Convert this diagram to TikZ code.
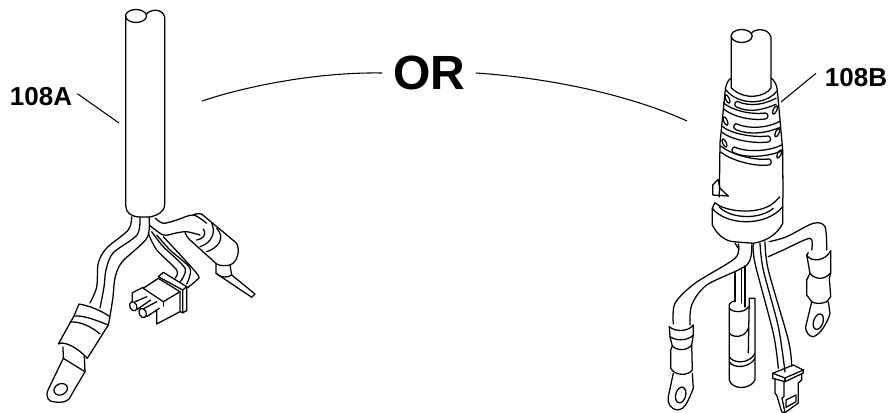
\documentclass[tikz,border=0pt]{standalone}
\usepackage{fontspec}
\setmainfont{Liberation Sans}
\tikzset{
  part/.style={line width=0.95pt, line cap=round, line join=round},
  callout/.style={inner sep=0pt, font=\fontsize{19.5}{22}\selectfont\bfseries},
  leader/.style={line width=0.8pt}
}
\begin{document}
\begin{tikzpicture}[x=0.75pt,y=0.75pt,yscale=-1,xscale=1]
        \useasboundingbox (0,0) rectangle (893,413);

        % Text Node
        \node (lblA) [callout, inner xsep=3.75pt] at (41,97) {108A};
        % Text Node
        \node (lblB) [callout, inner xsep=6.5pt] at (856,78) {108B};
        % Text Node
        \node (lblOr) [callout, inner xsep=8pt, font=\fontsize{36}{40}\selectfont\bfseries] at (429,73) {OR};

        \coordinate (cableA) at (119,123);
        \coordinate (bootB) at (781,102);
        \coordinate (endA) at (202,101);
        \coordinate (endB) at (687,121);

        %Straight Lines
        \draw [leader] ([yshift=-2.5pt]lblA.east) -- (cableA);
        \draw [leader] ([yshift=-3.5pt]lblB.west) -- (bootB);
        %Curves
        \draw [leader] (lblOr.west) .. controls (320,72) and (250,85) .. (endA);
        \draw [leader] (lblOr.east) .. controls (550,78) and (630,95) .. (endB);

        %Shape: Cable A
        \draw [part] (136,16) ellipse (10.5 and 6.5);
        \draw [part] (146.7,14) .. controls (149,10) and (162,7) .. (164.7,17) -- (164.7,204) .. controls (164.7,212) and (158,215) .. (150,217) -- (140,217) .. controls (132,217) and (125.7,213) .. (125.7,206) -- (125.7,16);
        %Wires to lug
        \draw [part] plot [smooth] coordinates {(131.7,216.7) (128.3,230) (106.7,248) (98.3,263) (96.7,287) (90,303)};
        \draw [part] plot [smooth] coordinates {(140,217) (137,235) (113,253) (106,270) (104,287) (100,308)};
        \draw [part] plot [smooth] coordinates {(149,217) (147,238) (122,262) (115,278) (113,297) (110,316)};
        %Shape: Ferrule
        \draw [part] (79,304) -- (74,316) -- (58.3,344) .. controls (62,341) and (75,345) .. (87.3,358.3) -- (108.3,325) -- (110,316.7) .. controls (100,310) and (90,306) .. (79,304) -- cycle;
        \draw [part] (74,316) .. controls (85,315) and (100,322) .. (108.3,325);
        \draw [part] (70,322) .. controls (80,321) and (92,327) .. (100,334);
        %Shape: Lug
        \draw [part] (63,347) -- (63.3,358.3) -- (48,390) .. controls (45,398) and (49,402) .. (55,402) .. controls (60,403) and (66,402) .. (69,399) -- (85,371.7) -- (84.3,356);
        \draw [part] (63.3,358.3) -- (85,371.7);
        \draw [part, rotate around={-25:(60.7,389.3)}] (60.7,389.3) ellipse (7 and 5.5);

        %Wire to tube
        \draw [part] plot [smooth] coordinates {(155,218) (163.3,223.3) (176.7,220) (193.3,215) (206.7,223.3)};
        \draw [part] plot [smooth] coordinates {(149.3,225) (163.3,235) (176,233) (186.7,231.7) (200,235)};
        %Shape: Tube
        \draw [part] (193.3,215) .. controls (197,213) and (202,213) .. (204,216) -- (236.7,243.3) .. controls (240,250) and (238,262) .. (230,265) .. controls (226,266) and (220,266) .. (216.7,264) -- (190,240) .. controls (187,237) and (186,235) .. (185,232.5);
        \draw [part] (211.7,223.3) .. controls (216,232) and (212,243) .. (200,246.7);
        \draw [part] (216.7,228.3) .. controls (226,238) and (218,248) .. (206.7,251.7);
        \draw [part] (203.3,229) .. controls (207,235) and (203,239) .. (196.7,240);
        %Shape: Terminal
        \draw [part] (216,264) -- (216,273.3) -- (251.7,297.3) -- (255,294) -- (231.7,275) -- (230,265);
        \draw [part] (216,273.3) .. controls (221,278) and (227,278) .. (231.7,275);

        %Small wires
        \draw [part] plot [smooth] coordinates {(148.3,233.3) (156.7,250) (176.7,270) (175,278.3)};
        \draw [part] plot [smooth] coordinates {(151.7,231.7) (163.3,246.7) (185,268.3) (180,282)};
        \draw [part] plot [smooth] coordinates {(156.7,235) (170,250) (190,268.3) (186.7,284)};
        \draw [part] plot [smooth] coordinates {(163.3,236.7) (196.7,273.3) (196.7,280) (186.7,288.3)};
        %Shape: Plug
        \draw [part, fill=white] (158.3,276.7) -- (163.3,272.3) -- (186.7,286.7) -- (182.7,290) -- cycle;
        \draw [part] (143.3,288.3) -- (158.3,278.3) -- (180,291.7) -- (163.3,301.7) -- cycle;
        \draw [part] (163.3,301.7) -- (163.3,306);
        \draw [part] (156.7,310) -- (156.7,324) -- (180,311.7) -- (180,291.7);
        \draw [part] (182.7,290) -- (182.7,312.7) -- (186.7,310.7) -- (186.7,286.7);
        \draw [part] (180,311.7) -- (182.7,312.7);
        \draw [part] (132.3,301.7) -- (132.3,292.7) -- (143.3,287.3);
        %Pins
        \draw [part, rotate around={-25:(133.3,306.3)}] (133.3,306.3) ellipse (3.5 and 4.8);
        \draw [part] (135,301.8) -- (146.7,296.7);
        \draw [part] (137.3,309.3) -- (150.7,300);
        \draw [part, rotate around={-25:(142.7,313)}] (142.7,313) ellipse (3.5 and 4.8);
        \draw [part] (144,308.5) -- (156.7,301.7);
        \draw [part] (146.7,316.7) -- (159.3,308.3);

        %Shape: Cable B
        \draw [part] (741.7,36) ellipse (10.5 and 6.5);
        \draw [part] (751.7,33) .. controls (754,29) and (768,27) .. (771,37) -- (771,88) .. controls (765,97) and (745,101) .. (731.3,88) -- (731.3,36);
        %Shape: Boot
        \draw [part] (731.3,78) .. controls (728,80) and (726,84) .. (725.3,90) -- (720,143) -- (719.3,197);
        \draw [part] (771,78) .. controls (774,80) and (777,85) .. (777.3,90) -- (782.7,150) -- (783,198);
        \draw [part] (726,90) .. controls (738,105) and (765,106) .. (777,91);
        %Ribs open on the right
        \foreach \lx/\ly/\rx/\ry in {736/104.3/776/98.3, 735/126.7/779.3/121.7, 733.3/150/781.7/145}
        {
          \draw [part] (\rx,\ry) .. controls (\rx-12,\ry+6) and (\lx+15,\ly+3) .. (\lx+1,\ly-3) .. controls (\lx-2,\ly-2) and (\lx-2,\ly+2) .. (\lx+1,\ly+3) .. controls (\lx+15,\ly+9) and (\rx-12,\ry+11) .. (\rx,\ry+6);
        }
        %Ribs open on the left
        \foreach \lx/\ly/\rx/\ry in {723.3/106.7/766.7/116, 721.7/130/769.3/139, 720.7/150/770/162}
        {
          \draw [part] (\lx,\ly-4) .. controls (\lx+8,\ly+3) and (\rx-18,\ry-1) .. (\rx-1,\ry-3) .. controls (\rx+2,\ry-2) and (\rx+2,\ry+2) .. (\rx-1,\ry+3) .. controls (\rx-18,\ry+5) and (\lx+8,\ly+9) .. (\lx,\ly+2);
        }
        %Side slots
        \foreach \sx/\sy/\sa in {727.5/99/-25, 725.5/121/-25, 724.5/143/-25, 775/110/25, 777.3/132.7/25, 779.3/154/25}
        {
          \draw [part, rotate around={\sa:(\sx,\sy)}] (\sx,\sy) ellipse (1.8 and 4.5);
        }
        %Shape: Collar
        \draw [part] (712.7,185) -- (718,179.5) -- (720,188.3) -- (728.3,196);
        \draw [part] (712.7,185) -- (712.7,195) -- (728.3,196);
        \draw [part] (712.3,208.3) -- (712.3,225) .. controls (718,236) and (726,241) .. (733.3,241.7) -- (753.3,243.3) .. controls (768,241) and (778,233) .. (782.7,223.3) -- (782.7,198.3);
        \draw [part] (712.3,208.3) -- (715,202.7) .. controls (725,212) and (760,216) .. (775,201.7) -- (780,196.7);
        \draw [part] (712.3,208.3) .. controls (725,225) and (765,228) .. (782.7,206.7);
        \draw [part] (719,206.7) .. controls (730,219) and (760,220) .. (773.3,208.3);

        %Wire to left lug
        \draw [part] plot [smooth] coordinates {(738.3,244) (735,258.3) (695,283.3) (675,303.3) (673.3,324)};
        \draw [part] plot [smooth] coordinates {(751.7,245) (746.7,265) (706.7,285) (691.7,305) (690,325)};
        %Shape: Left ferrule
        \draw [part] (669.3,326.7) .. controls (675,332) and (688,332) .. (693.3,325) -- (693.3,335) -- (691.7,345) -- (692.3,370) .. controls (688,376) and (675,376) .. (670.7,368.3) -- (670.7,350) -- (672.3,346) -- (670,336.7) -- cycle;
        \draw [part] (670,336.7) .. controls (676,341) and (688,341) .. (693.3,335);
        \draw [part] (672.3,346) .. controls (677,351) and (687,351) .. (691.7,345);
        %Shape: Left lug
        \draw [part] (673.3,373.3) -- (668.3,396.7) .. controls (667,403) and (671,410) .. (678,410) .. controls (684,410) and (688,402) .. (693.3,388.3) -- (692.3,373.3);
        \draw [part, rotate around={15:(680.7,395)}] (680.7,395) ellipse (5 and 8);

        %Wire to right lug
        \draw [part] plot [smooth] coordinates {(769.3,241.7) (786.7,236.7) (813.3,223.3) (825,226.7) (826.7,250)};
        \draw [part] plot [smooth] coordinates {(768.3,256.7) (783.3,250) (810,238.3) (811.7,250)};
        %Shape: Right ferrule
        \draw [part] (806.7,255) .. controls (810,262) and (825,262) .. (830.7,250.7) -- (830.7,273.3) -- (829.3,278.3) -- (830.7,296.7) -- (826.7,301.7) .. controls (822,304) and (815,304) .. (811.7,301.7) -- (806.7,295) -- (806.7,280) -- (810,273.3) -- cycle;
        \draw [part] (806.7,255) -- (808.3,252.7);
        \draw [part] (810,273.3) .. controls (815,280) and (825,280) .. (830,273.3);
        %Shape: Right lug
        \draw [part] (811.7,301.7) -- (805.7,326.7) .. controls (805,331) and (809,337) .. (813.3,336.7) .. controls (820,335) and (828,322) .. (830,313.3) -- (828.3,301.7);
        \draw [part, rotate around={18:(818.3,321.7)}] (818.3,321.7) ellipse (4.7 and 8);

        %Middle tube wires
        \draw [part] (735,243) -- (738,248);
        \draw [part] (735,272) -- (735,301.7);
        \draw [part] (741.7,268) -- (741.7,303);
        \draw [part] (745,266) -- (745,307);
        %Shape: Middle tube
        \draw [part] (729.3,305) .. controls (729.3,303) and (733,301) .. (735,301);
        \draw [part] (729.3,305) -- (729.3,380) .. controls (732,390) and (750,390) .. (755,380) -- (755,298.3) -- (749.3,298.3) -- (748.3,353);
        \draw [part] (729.3,308.3) .. controls (733,313) and (745,313) .. (748.3,306.7);
        \draw [part] (729.3,333.3) .. controls (733,338) and (745,338) .. (748.3,328.3);
        \draw [part] (729.3,356.7) .. controls (733,364) and (750,364) .. (755,353.3);
        \draw [part] (729.3,361.7) .. controls (733,369) and (750,368) .. (755,358.3);

        %Small wires
        \draw [part] plot [smooth] coordinates {(753.3,243.3) (755,263.3) (773.3,333.3) (778.3,368.3)};
        \draw [part] plot [smooth] coordinates {(760,243.3) (763.3,270) (778.3,326.7) (785,372)};
        \draw [part] plot [smooth] coordinates {(765,241.7) (768.3,270) (788.3,340) (791.7,366)};
        %Shape: Plug
        \draw [part] (772.7,373.3) -- (793.3,365) -- (803.3,370) -- (803.3,373) -- (785,381.7) -- (772.7,378.3) -- cycle;
        \draw [part] (772.7,373.3) -- (785,378) -- (803.3,370);
        \draw [part] (785,378) -- (785,381.7);
        \draw [part] (775,379) -- (775,393) -- (777,396) -- (781.7,411.7) -- (785,412.7) -- (798.3,403) -- (798.3,383) -- (801.7,380) -- (801.7,374);
        \draw [part] (784,382) -- (784,396.7) -- (782,398) -- (785,412.7);
        \draw [part] (786,400) -- (796,395) -- (796,401.7) -- (786,407.3) -- cycle;
\end{tikzpicture}
\end{document}
